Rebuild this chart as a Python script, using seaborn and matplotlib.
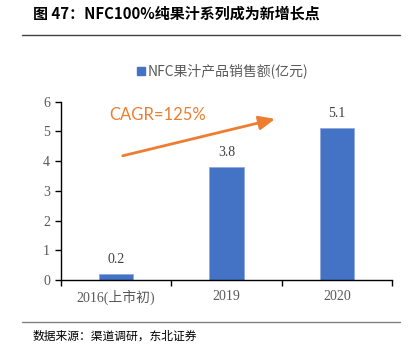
import matplotlib
matplotlib.use("Agg")
import matplotlib.pyplot as plt
import seaborn as sns
import pandas as pd
from matplotlib.lines import Line2D

categories = ["2016(上市初)", "2019", "2020"]
values = [0.2, 3.8, 5.1]
value_labels = ["0.2", "3.8", "5.1"]
series_name = "NFC果汁产品销售额(亿元)"
title = "图 47：NFC100%纯果汁系列成为新增长点"
source = "数据来源：渠道调研，东北证券"
cagr_text = "CAGR=125%"

sns.set_theme(style="white")
plt.rcParams['font.family'] = ['Liberation Serif', 'Noto Sans CJK SC', 'DejaVu Sans']

df = pd.DataFrame({"cat": categories, "val": values})

fig = plt.figure(figsize=(4.08, 3.53), dpi=100)
ax = fig.add_axes([61/408, 1-280/353, (392-61)/408, (280-101.7)/353])

bar_color = "#4472C4"
sns.barplot(data=df, x="cat", y="val", color=bar_color, width=0.31,
            saturation=1, ax=ax, edgecolor="#8faadc", linewidth=0.6)

ax.set_xlim(-0.5, 2.5)
ax.set_ylim(0, 6)
ax.set_yticks(range(0, 7))
ax.set_xlabel("")
ax.set_ylabel("")
for s in ["top", "right"]:
    ax.spines[s].set_visible(False)
for s in ["left", "bottom"]:
    ax.spines[s].set_color("black")
    ax.spines[s].set_linewidth(1.0)

ax.tick_params(axis="y", which="major", length=4, width=1, color="black",
               direction="out", labelsize=10, labelcolor="#595959", pad=4, left=True)
ax.set_xticks([-0.5, 0.5, 1.5, 2.5], minor=True)
ax.tick_params(axis="x", which="minor", length=4, width=1, color="black",
               direction="out", bottom=True)
ax.tick_params(axis="x", which="major", length=0, labelsize=10,
               labelcolor="#595959", pad=7)
for lab in ax.get_xticklabels():
    lab.set_family(['Liberation Serif', 'Noto Sans CJK SC'])

for i, (v, t) in enumerate(zip(values, value_labels)):
    ax.text(i, v + 0.28, t, ha="center", va="bottom", fontsize=10,
            color="#404040", family="Liberation Serif")

orange = "#ED7D31"
ax.annotate("", xy=(1.44, 5.42), xytext=(0.06, 4.18),
            arrowprops=dict(arrowstyle="-|>,head_length=0.8,head_width=0.35",
                            color=orange, lw=2, shrinkA=0, shrinkB=0))
ax.text(-0.06, 5.55, cagr_text, color=orange, fontsize=12,
        family="Lato", ha="left", va="center")

handle = Line2D([0], [0], marker="s", color="w", markerfacecolor=bar_color,
                markeredgecolor=bar_color, markersize=6, linestyle="")
fig.legend([handle], [series_name], loc="center left",
           bbox_to_anchor=(128/408, 1-71/353), frameon=False,
           handletextpad=0.0, handlelength=1.0, borderaxespad=0,
           prop={"family": ["Noto Sans CJK SC"], "size": 10},
           labelcolor="#595959")

fig.text(33/408, 1-14/353, title, fontsize=10.8, fontweight="bold",
         family=["Noto Sans CJK SC"], ha="left", va="center", color="black")
fig.text(33/408, 1-336/353, source, fontsize=8.5,
         family=["Noto Sans CJK SC"], ha="left", va="center", color="black")

fig.add_artist(Line2D([22/408, 400/408], [1-35/353, 1-35/353],
                      color="#404040", lw=1, transform=fig.transFigure))
fig.add_artist(Line2D([22/408, 400/408], [1-322/353, 1-322/353],
                      color="#808080", lw=1, transform=fig.transFigure))

fig.savefig("out.png", dpi=100)
